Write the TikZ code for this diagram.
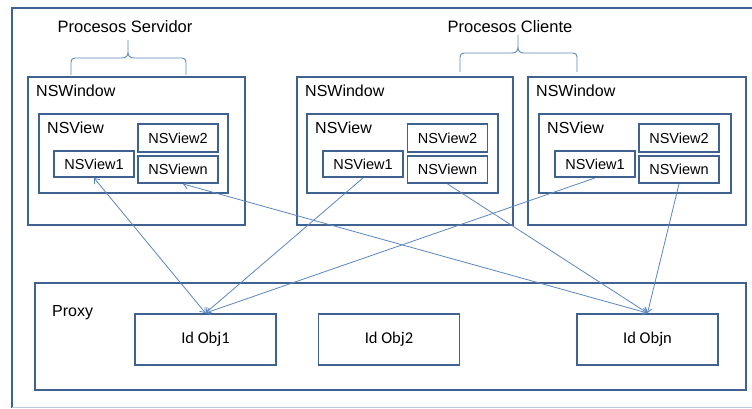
\documentclass[tikz,border=0pt]{standalone}
\usepackage{fontspec}
\setmainfont{Liberation Sans}
\newfontfamily\calibrilike{Carlito}
\usetikzlibrary{arrows.meta}
\definecolor{boxline}{HTML}{3F6290}
\definecolor{linkline}{HTML}{5A86C0}
\definecolor{frameline}{HTML}{3F6290}
\definecolor{framelight}{HTML}{B8CCE4}
\tikzset{
  frame/.style={draw=boxline, line width=1.9pt, rectangle, inner sep=0pt},
  viewbox/.style={frame, font=\fontsize{14.5}{16}\selectfont},
  objbox/.style={frame, font=\calibrilike\fontsize{16.5}{18}\selectfont},
  title/.style={inner sep=0pt, anchor=west, font=\fontsize{16}{18}\selectfont},
  heading/.style={inner sep=0pt, font=\fontsize{16.5}{18}\selectfont},
  brace/.style={draw=linkline, line width=0.9pt},
  link/.style={draw=linkline, line width=0.8pt},
  tip/.tip={Straight Barb[length=4.5pt, width=7pt]}
}
\begin{document}
\begin{tikzpicture}[x=1pt, y=-1pt]
\useasboundingbox (0,0) rectangle (752,409);

% outer frame (open on the right)
\draw[frameline, line width=1.9pt] (752,8) -- (12,8) -- (12,407.5);
\draw[framelight, line width=1.2pt] (12,407.5) -- (752,407.5);

% headings and braces
\node[heading] (hs) at (125,27) {Procesos Servidor};
\node[heading] (hc) at (510,27) {Procesos Cliente};
\draw[brace] (71,75) -- (71,62) .. controls (71,59.5) and (72.5,58) .. (75,58)
  -- (122,58) .. controls (126,58) and (128,56) .. (128,52) -- (128,40)
  -- (128,52) .. controls (128,56) and (130,58) .. (134,58)
  -- (182,58) .. controls (184.5,58) and (186,59.5) .. (186,62) -- (186,75);
\draw[brace] (460,72) -- (460,57) .. controls (460,54.5) and (461.5,53) .. (464,53)
  -- (512,53) .. controls (516,53) and (518,51) .. (518,47) -- (518,35)
  -- (518,47) .. controls (518,51) and (520,53) .. (524,53)
  -- (573,53) .. controls (575.5,53) and (577,54.5) .. (577,57) -- (577,72);

% windows
\node[frame, minimum width=217pt, minimum height=148pt] (ws) at (136.5,151) {};
\node[frame, minimum width=216pt, minimum height=148pt] (wa) at (405,151) {};
\node[frame, minimum width=218pt, minimum height=148pt] (wb) at (637,151) {};
\node[title] (wst) at (36,91) {NSWindow};
\node[title] (wat) at (305,91) {NSWindow};
\node[title] (wbt) at (536,91) {NSWindow};

% views inside each window
\node[frame, minimum width=189pt, minimum height=79pt] (vs) at (133.5,153.5) {};
\node[frame, minimum width=191pt, minimum height=79pt] (va) at (402.5,153.5) {};
\node[frame, minimum width=192pt, minimum height=79pt] (vb) at (635,153.5) {};
\node[title] (vst) at (47,128) {NSView};
\node[title] (vat) at (315,128) {NSView};
\node[title] (vbt) at (547,128) {NSView};

\foreach \nm/\cx/\cxone in {s/178/94, a/447.5/363, b/679/595}{
  \node[viewbox, minimum width=80pt, minimum height=27.5pt] (two\nm) at (\cx,138) {NSView2};
  \node[viewbox, minimum width=80pt, minimum height=27pt] (n\nm) at (\cx,169.5) {NSViewn};
  \node[viewbox, minimum width=80pt, minimum height=26pt] (one\nm) at (\cxone,164) {NSView1};
}

% proxy
\node[frame, minimum width=711pt, minimum height=107pt] (proxy) at (390.5,336.5) {};
\node[title] (proxyt) at (52,313) {Proxy};
\node[objbox, minimum width=141pt, minimum height=51pt] (obj1) at (205.5,339.5) {Id Obj1};
\node[objbox, minimum width=141pt, minimum height=51pt] (obj2) at (389,339.5) {Id Obj2};
\node[objbox, minimum width=141pt, minimum height=51pt] (objn) at (647.5,339.5) {Id Objn};

% links between views and proxy objects
\coordinate (ns) at ([xshift=5pt]ns.south);
\draw[link, tip-tip] (ones.south) -- (obj1.north);
\draw[link, tip-tip] (ns) -- (objn.north);
\draw[link, -tip] (onea.south) -- (obj1.north);
\draw[link, -tip] (oneb.south) -- (obj1.north);
\draw[link, -tip] (na.south) -- (objn.north);
\draw[link, -tip] (nb.south) -- (objn.north);
\end{tikzpicture}
\end{document}
